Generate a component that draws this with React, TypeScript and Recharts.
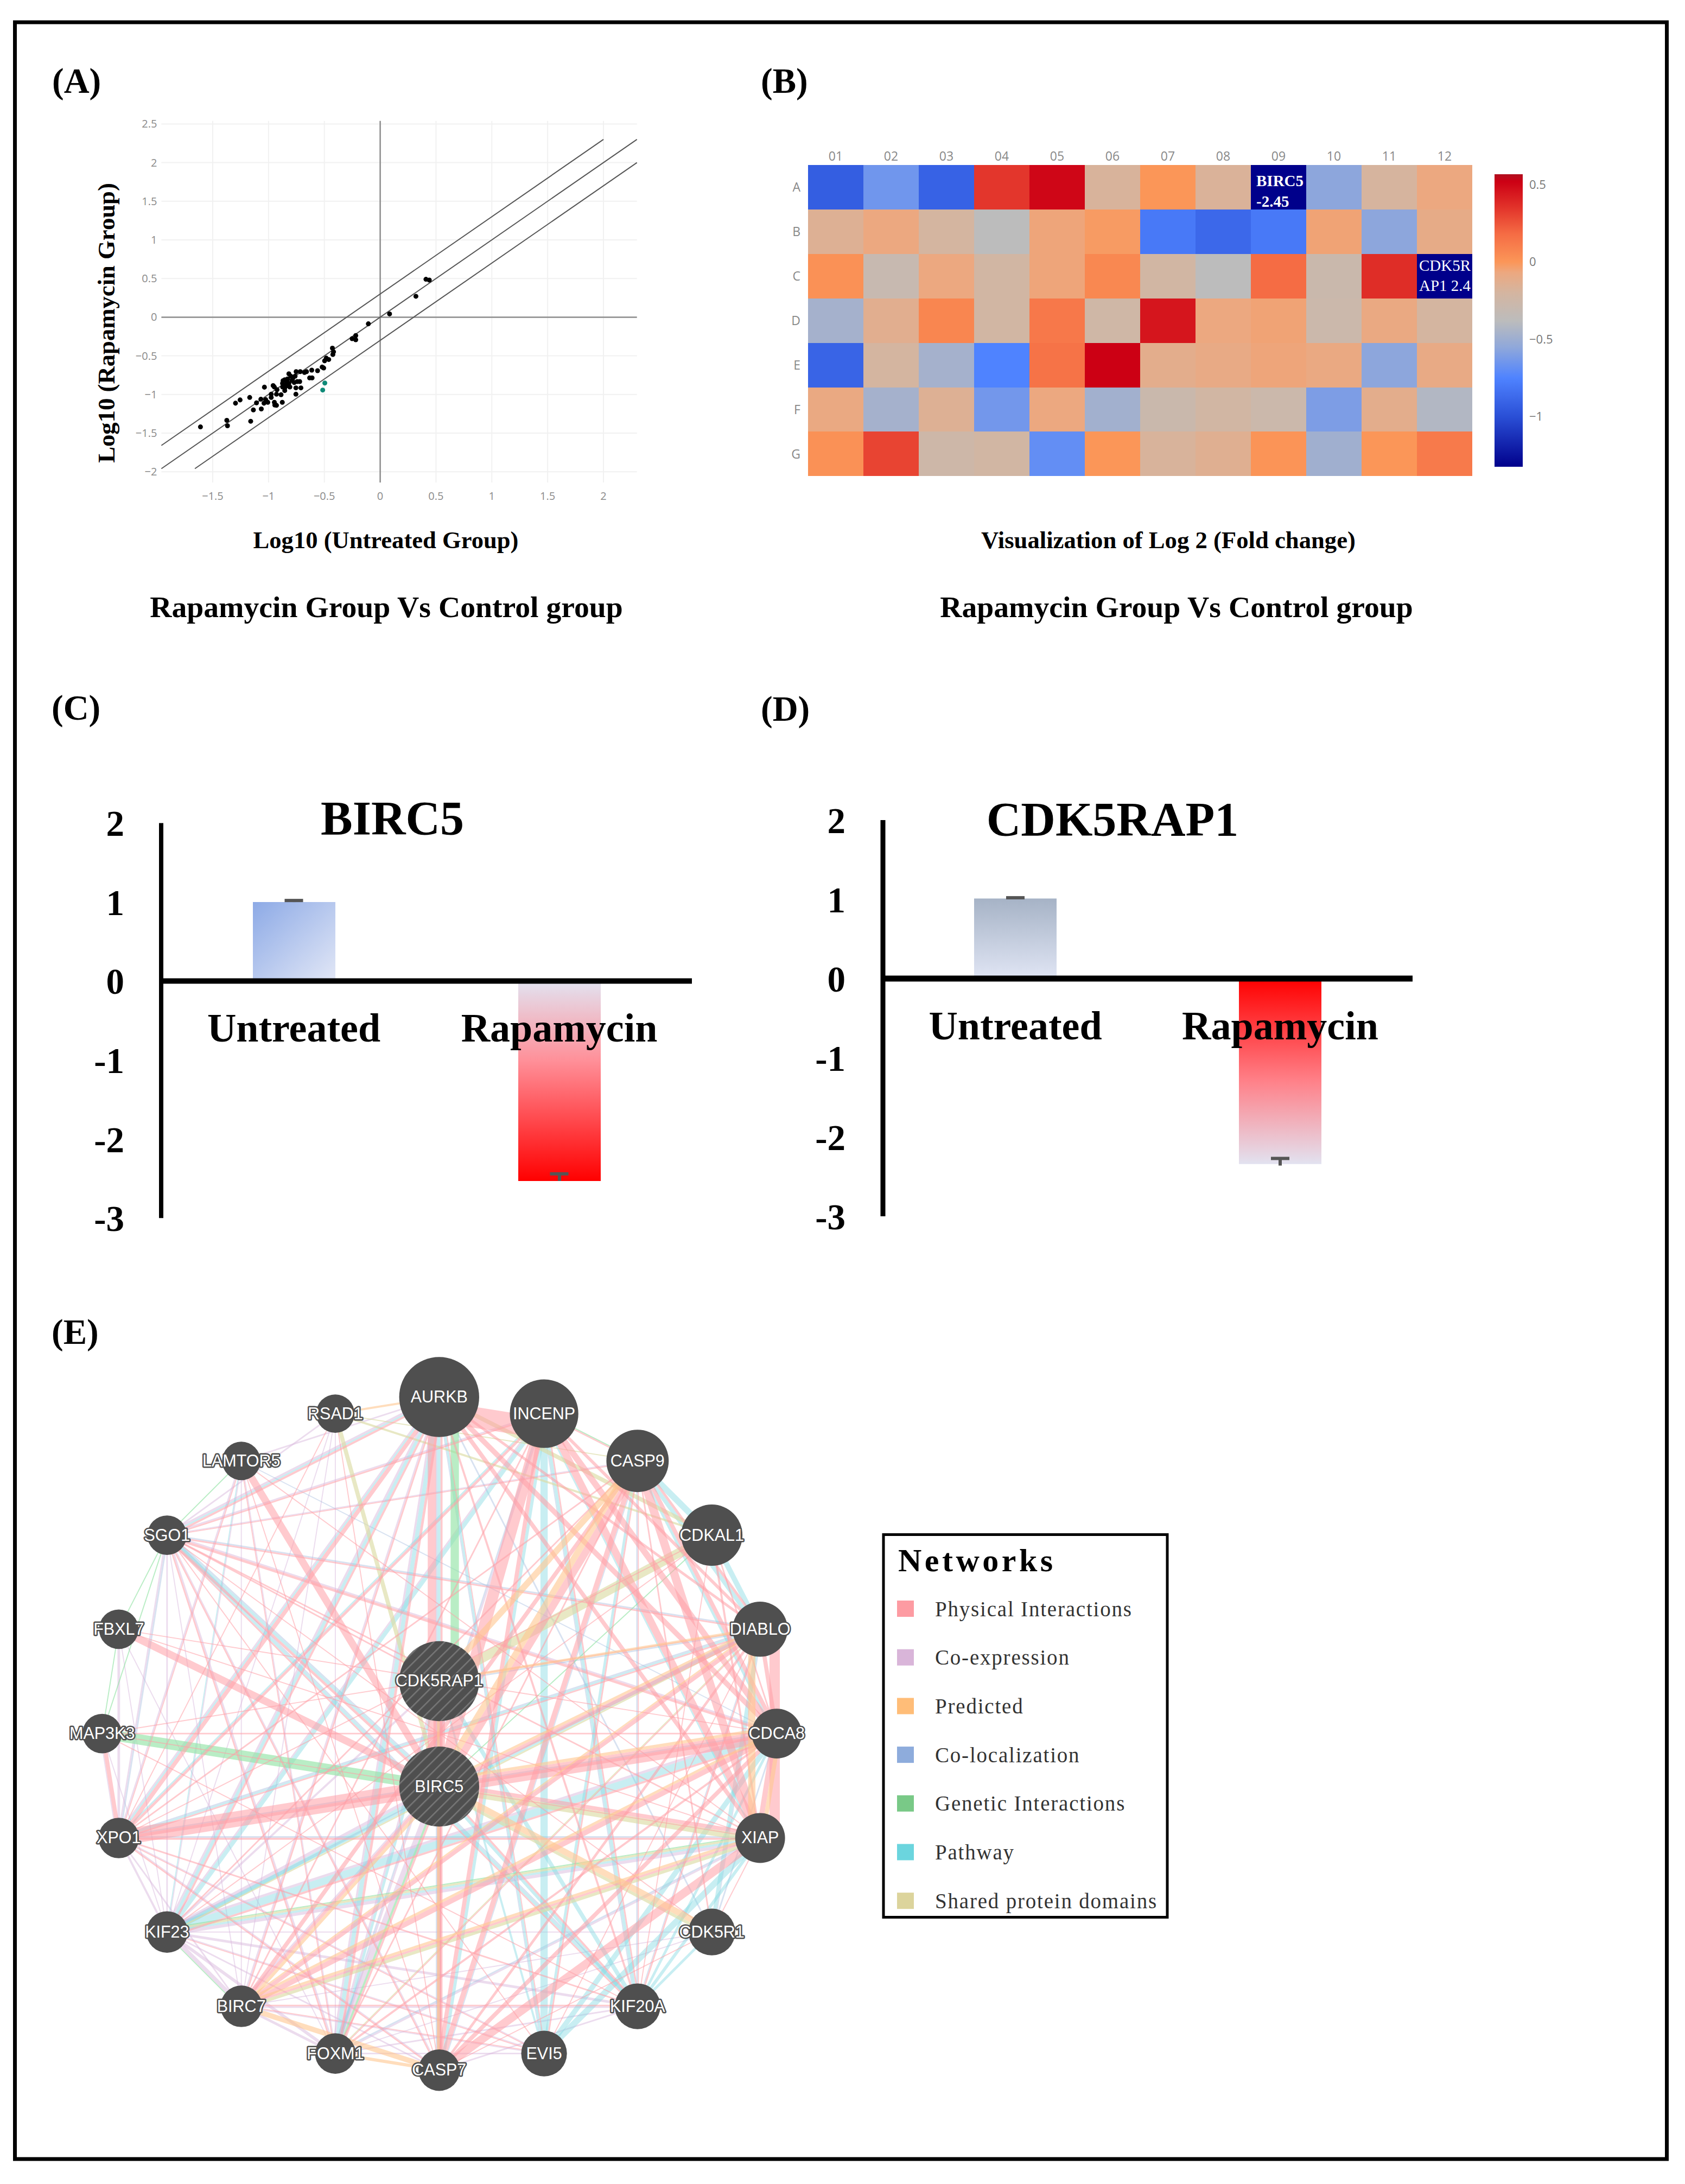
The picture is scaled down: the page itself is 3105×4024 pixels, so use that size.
import React from 'react';
import {
  ScatterChart, Scatter, XAxis, YAxis, ZAxis, CartesianGrid, ReferenceLine,
  BarChart, Bar, Cell, ComposedChart, Line, ErrorBar,
} from 'recharts';

const SERIF = '"Liberation Serif", serif';
const SANS = '"Liberation Sans", sans-serif';
const PLOT = '"Open Sans", sans-serif';

// ---- Panel A
const scatterBlack: [number, number][] = [
  [-1.61,-1.42],[-1.374,-1.335],[-1.368,-1.405],[-1.296,-1.113],[-1.255,-1.071],[-1.16,-1.347],[-1.169,-1.039],
  [-1.136,-1.2],[-1.108,-1.109],[-1.065,-1.188],[-1.069,-1.062],[-1.037,-0.906],[-1.041,-1.113],[-1.026,-1.067],
  [-1.007,-1.102],[-0.976,-0.997],[-0.976,-1.039],[-0.948,-1.102],[-0.944,-1.137],[-0.929,-1.141],[-0.959,-0.885],
  [-0.948,-0.904],[-0.924,-0.939],[-0.929,-0.997],[-0.888,-1.004],[-0.877,-1.102],[-0.855,-0.95],[-0.874,-0.904],
  [-0.755,-0.915],[-0.71,-0.915],[-0.755,-0.997],[-0.818,-0.733],[-0.87,-0.822],[-0.836,-0.833],[-0.818,-0.857],
  [-0.846,-0.891],[-0.809,-0.903],[-0.781,-0.786],[-0.762,-0.763],[-0.743,-0.833],[-0.721,-0.833],[-0.753,-0.705],
  [-0.716,-0.705],[-0.678,-0.716],[-0.66,-0.705],[-0.613,-0.686],[-0.561,-0.693],[-0.632,-0.786],[-0.61,-0.786],
  [-0.52,-0.646],[-0.506,-0.658],[-0.498,-0.565],[-0.483,-0.53],[-0.461,-0.548],[-0.428,-0.401],[-0.418,-0.448],
  [-0.424,-0.483],[-0.251,-0.278],[-0.219,-0.238],[-0.219,-0.292],[-0.106,-0.086],[0.084,0.042],[0.32,0.27],
  [0.41,0.49],[0.44,0.48],[-0.855,-0.81],[-0.83,-0.8],[-0.8,-0.765],[-0.79,-0.82],[-0.77,-0.845],[-0.835,-0.87],
  [-0.875,-0.857],[-0.82,-0.89],[-0.855,-0.915],
];
const scatterTeal: [number, number][] = [[-0.496,-0.852],[-0.515,-0.943]];
const foldLines = [
  [-1.96,-1.66,2,2.3],
  [-1.96,-1.96,2.3,2.3],
  [-1.66,-1.96,2.3,2],
];
const xTicksA = [-1.5,-1,-0.5,0,0.5,1,1.5,2];
const yTicksA = [-2,-1.5,-1,-0.5,0,0.5,1,1.5,2,2.5];

// ---- Panel B
const heatCols = ['01','02','03','04','05','06','07','08','09','10','11','12'];
const heatRows = ['A','B','C','D','E','F','G'];
const heatValues: number[][] = [
  [-0.93,-0.65,-0.91,0.34,0.5,-0.18,0,-0.17,-2.45,-0.56,-0.19,-0.07],
  [-0.15,-0.07,-0.2,-0.38,-0.06,-0.02,-0.8,-0.88,-0.8,-0.05,-0.56,-0.1],
  [0.02,-0.3,-0.07,-0.22,-0.06,0.06,-0.22,-0.38,0.18,-0.28,0.37,-2.4],
  [-0.47,-0.13,0.07,-0.22,0.13,-0.24,0.45,-0.07,-0.05,-0.27,-0.08,-0.2],
  [-0.9,-0.2,-0.47,-0.75,0.15,0.52,-0.12,-0.09,-0.06,-0.08,-0.56,-0.09],
  [-0.08,-0.47,-0.15,-0.64,-0.07,-0.48,-0.28,-0.22,-0.27,-0.61,-0.12,-0.42],
  [0.02,0.3,-0.25,-0.22,-0.69,0,-0.18,-0.14,0.01,-0.49,0,0.12],
];
const colorStops: [number, string][] = [
  [-1.325,'#00008b'],[-1,'#2a4fd6'],[-0.75,'#4f83ff'],[-0.55,'#90a8da'],[-0.38,'#bcbcbc'],
  [-0.2,'#d4b5a0'],[-0.07,'#eca880'],[0,'#fb9658'],[0.18,'#f56c44'],[0.35,'#e2332a'],[0.52,'#cc0014'],[0.566,'#b01020'],
];
const colorbarRange = [-1.325, 0.566];
const colorbarTicks = [-1,-0.5,0,0.5];
const heatNotes = [
  { row: 'A', col: '09', lines: ['BIRC5','-2.45'], bold: true, first: 29, step: 38 },
  { row: 'C', col: '12', lines: ['CDK5R','AP1 2.4'], bold: false, first: 22, step: 37 },
];

// ---- Panels C and D
const barCategories = ['Untreated','Rapamycin'];
const birc5Values = [1, -2.53];
const birc5Errors: [number,number][] = [[0,0.02],[0,0.09]];
const birc5Caps = [1.02,-2.44];
const cdk5Values = [1.01, -2.34];
const cdk5Errors: [number,number][] = [[0,0.01],[0.02,0.07]];
const cdk5Caps = [1.02,-2.27];
const barTicks = [-3,-2,-1,0,1,2];

// ---- Panel E
const nodeNames = ['AURKB','INCENP','CASP9','CDKAL1','DIABLO','CDCA8','XIAP','CDK5R1','KIF20A','EVI5','CASP7','FOXM1','BIRC7','KIF23','XPO1','MAP3K3','FBXL7','SGO1','LAMTOR5','RSAD1','CDK5RAP1','BIRC5'];
const nodeX = [783,985,1165,1308,1401,1433,1401,1308,1165,985,783,583,402,259,166,134,166,259,402,583,783,783];
const nodeY = [185,217,308,451,632,833,1034,1215,1358,1449,1481,1449,1358,1215,1034,833,632,451,308,217,732,935];
const nodeSizes = [77,66,60,59,53,48,48,45,44,44,40,39,40,40,39,38,38,38,37,37,77,77];
const queryGenes = ['CDK5RAP1','BIRC5'];

// from, to, weight, optional sideways offset of the link
type Edge = [string,string,number,number?];
const coexpressionEdges: Edge[] = [
  ['KIF23','BIRC7',8],['KIF23','FOXM1',6],['BIRC7','FOXM1',5],['KIF23','CASP7',3],['KIF23','XIAP',6],['KIF23','BIRC5',6],
  ['KIF23','CDK5RAP1',4],['XPO1','KIF23',4],['XPO1','BIRC7',3],['FOXM1','BIRC5',10],['FOXM1','AURKB',4],['FOXM1','CDK5RAP1',4],
  ['KIF23','CDCA8',5],['KIF23','KIF20A',5],['SGO1','XPO1',3],['SGO1','KIF23',3],['SGO1','FOXM1',3],['LAMTOR5','XPO1',3],
  ['AURKB','SGO1',4],['RSAD1','SGO1',3],['AURKB','LAMTOR5',3],['XPO1','FBXL7',3],['AURKB','KIF23',4],['INCENP','KIF23',3],
  ['BIRC7','KIF20A',3],['FOXM1','KIF20A',3],['FOXM1','EVI5',3],['CASP7','KIF20A',3],['SGO1','CDCA8',3],['BIRC7','AURKB',3],
  ['MAP3K3','KIF23',2],['FBXL7','KIF23',2],['FOXM1','XIAP',3],['BIRC7','BIRC5',3],['RSAD1','KIF23',2],['FOXM1','INCENP',3],
  ['LAMTOR5','FOXM1',2],['LAMTOR5','BIRC7',2],['LAMTOR5','KIF23',2],['FBXL7','FOXM1',2],['FBXL7','XPO1',2],['MAP3K3','XPO1',2],
  ['RSAD1','FOXM1',2],['RSAD1','BIRC7',2],['SGO1','BIRC7',2],['SGO1','CASP7',2],['KIF23','EVI5',2],['BIRC7','EVI5',2],
  ['AURKB','XPO1',3],['INCENP','SGO1',3],['CASP9','SGO1',2],['KIF23','CDK5R1',2],['FOXM1','CDK5R1',2],['XPO1','EVI5',2],
  ['XPO1','CASP7',2],['BIRC7','CDK5R1',2],
];
const colocalizationEdges: Edge[] = [
  ['SGO1','DIABLO',3],['XPO1','XIAP',3],['XPO1','CDCA8',3],['FOXM1','XIAP',3],['CASP9','KIF20A',3],['SGO1','BIRC5',3],
  ['AURKB','CDK5R1',3],['INCENP','FOXM1',3],['AURKB','CASP7',3],['KIF23','DIABLO',3],['LAMTOR5','CDCA8',2],['CDK5RAP1','DIABLO',3],
  ['XPO1','DIABLO',3],['SGO1','KIF20A',3],['CDK5R1','CDCA8',3],['XPO1','SGO1',3],['AURKB','EVI5',2],['INCENP','KIF20A',2],
  ['CASP9','CASP7',2],['CDK5R1','DIABLO',2],['KIF20A','DIABLO',2],
];
const pathwayEdges: Edge[] = [
  ['INCENP','EVI5',14],['KIF23','INCENP',8],['KIF23','AURKB',6],['KIF23','CDCA8',14],['CDCA8','EVI5',10],['XIAP','EVI5',12],
  ['XIAP','KIF20A',6],['CDK5R1','KIF20A',5],['CASP9','CDKAL1',12],['CDKAL1','DIABLO',10],['CASP9','DIABLO',8],
  ['CDK5RAP1','KIF20A',8],['BIRC5','KIF20A',6],['SGO1','KIF20A',5],['SGO1','BIRC5',5],['FOXM1','AURKB',8],['FOXM1','CDK5RAP1',5],
  ['AURKB','CASP7',6],['INCENP','CASP7',6],['CDK5R1','DIABLO',7],['KIF20A','INCENP',6],['DIABLO','XPO1',3],['KIF23','XIAP',4],
  ['KIF23','DIABLO',4],['CASP9','EVI5',5],['KIF20A','CDCA8',5],['XPO1','INCENP',3],['CASP9','CDCA8',5],['KIF23','BIRC5',8],
  ['XPO1','AURKB',3],['SGO1','AURKB',3],['AURKB','EVI5',4],['CDK5RAP1','EVI5',4],['LAMTOR5','KIF23',2],['INCENP','XIAP',3],
];
const sharedEdges: Edge[] = [
  ['CDKAL1','CDK5RAP1',18],['CDKAL1','AURKB',8],['RSAD1','BIRC5',8],['XIAP','BIRC5',12],['KIF23','DIABLO',3],['BIRC7','XIAP',6],
  ['RSAD1','CDKAL1',4],['CDK5R1','BIRC5',6],['KIF23','XIAP',4],['FOXM1','DIABLO',2],['CASP9','RSAD1',2],
];
const geneticEdges: Edge[] = [
  ['MAP3K3','BIRC5',20],['AURKB','CDK5RAP1',16,30],['FOXM1','BIRC5',4],['FBXL7','MAP3K3',2],['LAMTOR5','SGO1',2],['INCENP','CASP9',2],
  ['KIF23','BIRC7',2],['SGO1','FBXL7',2],['MAP3K3','SGO1',2],['CDKAL1','BIRC5',2],['KIF23','XIAP',2],
];
const physicalEdges: Edge[] = [
  ['AURKB','INCENP',40,-28],['AURKB','BIRC5',16,-14],['INCENP','BIRC5',22],['CASP9','BIRC5',14],['CASP9','XIAP',16],['INCENP','XIAP',14],
  ['INCENP','CDCA8',12],['AURKB','XIAP',8],['AURKB','CDCA8',10],['AURKB','DIABLO',5],['XPO1','BIRC5',30],['DIABLO','XIAP',20,28],
  ['CDCA8','BIRC5',24],['XIAP','BIRC5',8],['DIABLO','BIRC5',8],['LAMTOR5','BIRC5',14],['FBXL7','BIRC5',14],['SGO1','BIRC5',5],
  ['BIRC7','CDCA8',10],['BIRC7','DIABLO',8],['BIRC7','BIRC5',6],['CASP7','XIAP',16],['CASP7','CDCA8',8],['CASP7','BIRC5',8],
  ['CASP7','INCENP',8],['XPO1','AURKB',8],['XPO1','INCENP',5],['XPO1','MAP3K3',8],['FOXM1','AURKB',5],['FOXM1','CDCA8',4],
  ['FOXM1','BIRC5',4],['KIF23','AURKB',4],['KIF23','CDCA8',4],['KIF20A','AURKB',4],['KIF20A','BIRC5',4],['KIF20A','INCENP',3],
  ['SGO1','AURKB',4],['SGO1','CDCA8',5],['SGO1','XIAP',3],['SGO1','INCENP',3],['SGO1','DIABLO',3],['SGO1','KIF20A',3],
  ['SGO1','FOXM1',3],['BIRC7','XIAP',4],['BIRC7','KIF20A',3],['XIAP','XPO1',4],['XPO1','KIF20A',3],['XPO1','CDCA8',6],
  ['XPO1','DIABLO',3],['CDK5RAP1','BIRC5',22],['CASP9','CASP7',10],['CASP9','BIRC7',8],['DIABLO','CASP7',5],['CDCA8','XIAP',10],
  ['DIABLO','CDCA8',8],['CASP9','CDCA8',8],['INCENP','DIABLO',6],['MAP3K3','CDCA8',3],['LAMTOR5','XIAP',2],
  ['SGO1','CDK5RAP1',3],['SGO1','CASP7',3],['SGO1','EVI5',2],['SGO1','CDK5R1',2],['SGO1','CASP9',2],['XPO1','CASP9',3],
  ['XPO1','CDKAL1',2],['XPO1','CASP7',3],['XPO1','RSAD1',2],['XPO1','LAMTOR5',2],['XPO1','EVI5',2],['FBXL7','XIAP',2],
  ['FBXL7','CDCA8',2],['MAP3K3','DIABLO',2],['MAP3K3','XIAP',2],['MAP3K3','KIF20A',2],['LAMTOR5','FOXM1',2],['LAMTOR5','CASP7',2],
  ['RSAD1','CASP7',2],['KIF23','CASP9',3],['KIF23','CDKAL1',2],['KIF23','EVI5',2],['BIRC7','INCENP',3],['BIRC7','AURKB',3],
  ['BIRC7','EVI5',2],['FOXM1','CASP9',3],['FOXM1','DIABLO',2],['EVI5','AURKB',2],['EVI5','CASP9',3],['EVI5','DIABLO',2],
  ['KIF20A','DIABLO',3],['KIF20A','CDKAL1',2],['KIF20A','CASP9',2],['CASP7','AURKB',4],['CASP7','CDK5RAP1',3],['CASP7','CDK5R1',2],
  ['CDK5R1','XIAP',2],['CDK5R1','CASP9',3],['CDKAL1','XIAP',4],['CDKAL1','CDCA8',3],['CASP9','DIABLO',5],['INCENP','CASP9',3],
];
const predictedEdges: Edge[] = [
  ['DIABLO','XIAP',14,-16],['CASP9','BIRC5',12],['CASP9','CDK5RAP1',12],['BIRC7','CASP7',10],['BIRC7','CDCA8',5],['BIRC7','BIRC5',6],
  ['CASP7','CDK5RAP1',5],['CDK5R1','BIRC5',12],['DIABLO','BIRC5',5],['CDCA8','XIAP',8],['BIRC5','CDCA8',6],['BIRC7','XIAP',5],
  ['CDK5RAP1','DIABLO',5],['RSAD1','AURKB',4],['FOXM1','CASP7',6],['BIRC7','DIABLO',3],
];
const edgeLayers: { edges: Edge[]; color: string; opacity: number }[] = [
  { edges: coexpressionEdges, color: '#d9b9dd', opacity: 0.5 },
  { edges: colocalizationEdges, color: '#a9bfe0', opacity: 0.45 },
  { edges: pathwayEdges, color: '#86dae2', opacity: 0.45 },
  { edges: sharedEdges, color: '#dcdca4', opacity: 0.65 },
  { edges: geneticEdges, color: '#93e3a6', opacity: 0.65 },
  { edges: physicalEdges, color: '#ff9ea6', opacity: 0.55 },
  { edges: predictedEdges, color: '#ffc690', opacity: 0.6 },
];
const legendLabels = ['Physical Interactions','Co-expression','Predicted','Co-localization','Genetic Interactions','Pathway','Shared protein domains'];
const legendColors = ['#fd9ba2','#d9b5d9','#ffbd78','#8eacdc','#79c987','#6bd5de','#dcd49c'];

// ---- Derived tables
const toPts = (a: [number,number][]) => a.map(([x,y]) => ({ x, y }));
const minus = (v: number) => String(v).replace('-', '\u2212');
const mix = (a: string, b: string, t: number) => {
  const p = (s: string, i: number) => parseInt(s.slice(i, i + 2), 16);
  const c = [1,3,5].map((i) => Math.round(p(a,i) + (p(b,i) - p(a,i)) * t));
  return `rgb(${c[0]},${c[1]},${c[2]})`;
};
const heatColor = (v: number) => {
  if (v <= colorStops[0][0]) return colorStops[0][1];
  for (let i = 1; i < colorStops.length; i++) {
    if (v <= colorStops[i][0]) {
      const [v0,c0] = colorStops[i-1];
      const [v1,c1] = colorStops[i];
      return mix(c0, c1, (v - v0) / (v1 - v0));
    }
  }
  return colorStops[colorStops.length-1][1];
};
const heatData = heatCols.map((col) => {
  const d: Record<string, any> = { col };
  heatRows.forEach((r) => { d[r] = 1; });
  return d;
});
const rowTicks = heatRows.map((_, i) => i + 0.5);
const birc5Data = barCategories.map((name, i) => ({ name, value: birc5Values[i], err: birc5Errors[i], cap: birc5Caps[i] }));
const cdk5Data = barCategories.map((name, i) => ({ name, value: cdk5Values[i], err: cdk5Errors[i], cap: cdk5Caps[i] }));
const nodes = nodeNames.map((name, i) => ({ name, x: nodeX[i], y: nodeY[i], size: nodeSizes[i] }));
const nodeByName = Object.fromEntries(nodes.map((n) => [n.name, n]));
const NET_SPAN = 1567.5;
const NET_RATIO = 1500 / NET_SPAN;

// Links between the same two genes lie side by side, as bundles.
const pairKey = (a: string, b: string) => (a < b ? `${a}|${b}` : `${b}|${a}`);
const bundleTotals: Record<string, number> = {};
edgeLayers.forEach((l) => l.edges.forEach(([a,b,w,s]) => {
  if (s === undefined) bundleTotals[pairKey(a,b)] = (bundleTotals[pairKey(a,b)] || 0) + w;
}));
const bundleUsed: Record<string, number> = {};
const edgeSegments = edgeLayers.flatMap((layer, li) => layer.edges.map(([a,b,w,s], ei) => {
  const A = nodeByName[a];
  const B = nodeByName[b];
  let from = A;
  let to = B;
  let off = s ?? 0;
  if (s === undefined) {
    const k = pairKey(a,b);
    const used = bundleUsed[k] || 0;
    off = used + w / 2 - bundleTotals[k] / 2;
    bundleUsed[k] = used + w;
    if (a > b) { from = B; to = A; }
  }
  const dx = to.x - from.x;
  const dy = to.y - from.y;
  const len = Math.hypot(dx, dy);
  const nx = (dy / len) * off;
  const ny = (-dx / len) * off;
  return {
    key: `${li}-${ei}`, color: layer.color, opacity: layer.opacity, width: w * NET_RATIO,
    seg: [{ x: from.x + nx, y: from.y + ny }, { x: to.x + nx, y: to.y + ny }],
  };
}));

const Box = ({ l, t, children }: any) => (
  <div style={{ position: 'absolute', left: l, top: t }}>{children}</div>
);

const PageText = ({ x, y, size, bold = true, anchor = 'middle', children, rotate, fill = '#000', spacing }: any) => (
  <text
    x={x} y={y} fontFamily={SERIF} fontSize={size} fontWeight={bold ? 700 : 400} textAnchor={anchor}
    dominantBaseline="central" fill={fill} letterSpacing={spacing}
    transform={rotate ? `rotate(${rotate} ${x} ${y})` : undefined}
  >{children}</text>
);

const capShape = (fill: string) => (p: any) => (
  <rect key={p.index} x={p.cx - 17} y={p.cy - 3} width={34} height={6} fill={fill} />
);

const categoryTick = (y: number) => ({ x, payload }: any) => (
  <text x={x} y={y} textAnchor="middle" dominantBaseline="central" fontFamily={SERIF} fontWeight={700} fontSize={74} fill="#000">{payload.value}</text>
);

const BarPanel = ({ data, width, height, top, yWidth, axisWidth, tickMargin, labelY, fills, axisBar }: any) => (
  <ComposedChart width={width} height={height} data={data} margin={{ top, right: 20, bottom: 0, left: 0 }} barCategoryGap={0}>
    <XAxis dataKey="name" axisLine={false} tickLine={false} height={50} interval={0} tick={categoryTick(labelY)} />
    <YAxis
      type="number" domain={[-3,2]} ticks={barTicks} width={yWidth} interval={0} tickLine={false} tickMargin={tickMargin}
      axisLine={{ stroke: '#000', strokeWidth: axisWidth }}
      tick={{ fill: '#000', fontFamily: SERIF, fontWeight: 700, fontSize: 67 }}
    />
    <ReferenceLine y={0} stroke="#000" strokeWidth={axisBar} />
    <Bar dataKey="value" barSize={152} isAnimationActive={false}>
      {data.map((_: any, i: number) => <Cell key={i} fill={fills[i]} />)}
      <ErrorBar dataKey="err" width={0} stroke="#555" strokeWidth={6} isAnimationActive={false} />
    </Bar>
    <Line dataKey="cap" stroke="none" isAnimationActive={false} activeDot={false} dot={capShape('#555')} />
  </ComposedChart>
);

export default function App() {
  const barStops = colorStops;
  const span = colorbarRange[1] - colorbarRange[0];
  return (
    <div style={{ position: 'absolute', left: 0, top: 0, width: 3105, height: 4024, background: '#fff', overflow: 'hidden' }}>
      {/* Panel A */}
      <Box l={200} t={180}>
        <ScatterChart width={1100} height={820} margin={{ top: 42.7, right: 126.3, bottom: 0, left: 0 }}>
          <CartesianGrid stroke="#f1f1f1" strokeWidth={2} horizontalValues={yTicksA} verticalValues={xTicksA} />
          <XAxis type="number" dataKey="x" domain={[-1.96,2.3]} ticks={xTicksA} height={110.9} interval={0}
            axisLine={false} tickLine={false} tickMargin={12} tickFormatter={minus} allowDataOverflow
            tick={{ fill: '#8a8a8a', fontFamily: PLOT, fontSize: 20 }} />
          <YAxis type="number" dataKey="y" domain={[-2.14,2.54]} ticks={yTicksA} width={97.4} interval={0}
            axisLine={false} tickLine={false} tickMargin={2} tickFormatter={minus} allowDataOverflow
            tick={{ fill: '#8a8a8a', fontFamily: PLOT, fontSize: 20 }} />
          <ZAxis range={[60,60]} />
          <ReferenceLine x={0} stroke="#8c8c8c" strokeWidth={2.5} />
          <ReferenceLine y={0} stroke="#8c8c8c" strokeWidth={2.5} />
          {foldLines.map((s, i) => (
            <ReferenceLine key={i} stroke="#555" strokeWidth={2} ifOverflow="visible"
              segment={[{ x: s[0], y: s[1] }, { x: s[2], y: s[3] }]} />
          ))}
          <Scatter data={toPts(scatterBlack)} fill="#000" isAnimationActive={false} />
          <Scatter data={toPts(scatterTeal)} fill="#0f8a78" isAnimationActive={false} />
        </ScatterChart>
      </Box>

      {/* Panel B */}
      <Box l={1449} t={243.6}>
        <BarChart width={1264} height={633.4} data={heatData} margin={{ top: 0, right: 0, bottom: 0, left: 0 }} barCategoryGap={0}>
          <XAxis dataKey="col" orientation="top" height={60} axisLine={false} tickLine={false} interval={0} tickMargin={2}
            tick={{ fill: '#888', fontFamily: PLOT, fontSize: 23 }} />
          <YAxis type="number" reversed domain={[0,7]} ticks={rowTicks} width={40} axisLine={false} tickLine={false} interval={0} tickMargin={8}
            tickFormatter={(v: number) => heatRows[Math.floor(v)]} tick={{ fill: '#888', fontFamily: PLOT, fontSize: 23 }} />
          {heatRows.map((r, ri) => (
            <Bar key={r} dataKey={r} stackId="plate" isAnimationActive={false} style={{ shapeRendering: 'crispEdges' }}>
              {heatCols.map((c, ci) => <Cell key={c} fill={heatColor(heatValues[ri][ci])} />)}
            </Bar>
          ))}
        </BarChart>
      </Box>
      <Box l={2754} t={320.6}>
        <BarChart width={132} height={539.4} data={[{ name: 'scale', range: colorbarRange }]} margin={{ top: 0, right: 0, bottom: 0, left: 0 }} barCategoryGap={0}>
          <XAxis dataKey="name" hide />
          <YAxis orientation="right" type="number" domain={colorbarRange} ticks={colorbarTicks} width={80} interval={0}
            axisLine={false} tickLine={false} tickMargin={6} tickFormatter={minus}
            tick={{ fill: '#777', fontFamily: PLOT, fontSize: 22 }} />
          <Bar dataKey="range" fill="url(#colorbarFill)" isAnimationActive={false} />
        </BarChart>
      </Box>

      {/* Panel C */}
      <Box l={100} t={1450}>
        <BarPanel data={birc5Data} width={1195} height={844.3} top={66.5} yWidth={197} axisWidth={8} tickMargin={62} labelY={444} axisBar={10}
          fills={['url(#cUntreated)','url(#cRapamycin)']} />
      </Box>

      {/* Panel D */}
      <Box l={1430} t={1450}>
        <BarPanel data={cdk5Data} width={1193} height={841} top={61} yWidth={197} axisWidth={9} tickMargin={63} labelY={440} axisBar={11}
          fills={['url(#dUntreated)','url(#dRapamycin)']} />
      </Box>

      {/* Panel E */}
      <Box l={60} t={2397}>
        <ScatterChart width={1500} height={1500} margin={{ top: 0, right: 0, bottom: 0, left: 0 }}>
          <XAxis type="number" dataKey="x" domain={[0,NET_SPAN]} hide />
          <YAxis type="number" dataKey="y" domain={[0,NET_SPAN]} reversed hide />
          {edgeSegments.map((e) => (
            <ReferenceLine key={e.key} stroke={e.color} strokeOpacity={e.opacity} strokeWidth={e.width} ifOverflow="visible" segment={e.seg} />
          ))}
          <Scatter data={nodes} isAnimationActive={false}
            shape={(p: any) => {
              const hatched = queryGenes.includes(p.payload.name);
              return (
                <g>
                  <circle cx={p.cx} cy={p.cy} r={p.payload.size * NET_RATIO} fill={hatched ? 'url(#queryHatch)' : '#4f4f4f'} />
                  <text x={p.cx} y={p.cy - 1} textAnchor="middle" dominantBaseline="central" fontFamily={SANS} fontSize={30.5}
                    fill="#fff" stroke="#4f4f4f" strokeWidth={5} strokeLinejoin="round" style={{ paintOrder: 'stroke' }}>{p.payload.name}</text>
                </g>
              );
            }} />
        </ScatterChart>
      </Box>

      {/* Page level texts, frames and paint servers */}
      <svg width={3105} height={4024} style={{ position: 'absolute', left: 0, top: 0, pointerEvents: 'none' }}>
        <defs>
          <linearGradient id="colorbarFill" x1="0" y1="1" x2="0" y2="0">
            {barStops.map(([v,c], i) => <stop key={i} offset={(v - colorbarRange[0]) / span} stopColor={c} />)}
          </linearGradient>
          <linearGradient id="cUntreated" x1="0" y1="0" x2="1" y2="1">
            <stop offset="0" stopColor="#8daae6" /><stop offset="1" stopColor="#e2e7f6" />
          </linearGradient>
          <linearGradient id="cRapamycin" x1="0" y1="0" x2="0" y2="1">
            <stop offset="0" stopColor="#e2e2f0" /><stop offset="0.4" stopColor="#ff8f98" /><stop offset="1" stopColor="#ff0000" />
          </linearGradient>
          <linearGradient id="dUntreated" x1="0" y1="0" x2="0" y2="1">
            <stop offset="0" stopColor="#a6b3c6" /><stop offset="1" stopColor="#e0e5f4" />
          </linearGradient>
          <linearGradient id="dRapamycin" x1="0" y1="0" x2="0" y2="1">
            <stop offset="0" stopColor="#ff0000" /><stop offset="0.55" stopColor="#ff8088" /><stop offset="1" stopColor="#e2e2f0" />
          </linearGradient>
          <pattern id="queryHatch" width="14" height="14" patternUnits="userSpaceOnUse" patternTransform="rotate(45)">
            <rect width="14" height="14" fill="#4f4f4f" />
            <rect width="2.5" height="14" fill="#777" />
          </pattern>
        </defs>
        <rect x={27.5} y={41} width={3044} height={3937} fill="none" stroke="#000" strokeWidth={7} />

        <PageText x={96} y={149} size={65} anchor="start">(A)</PageText>
        <PageText x={1402} y={149} size={65} anchor="start">(B)</PageText>
        <PageText x={95} y={1304} size={65} anchor="start">(C)</PageText>
        <PageText x={1402} y={1306} size={65} anchor="start">(D)</PageText>
        <PageText x={95} y={2454} size={65} anchor="start">(E)</PageText>

        <PageText x={711} y={995} size={44.6}>Log10 (Untreated Group)</PageText>
        <PageText x={196} y={595} size={44.7} rotate={-90}>Log10 (Rapamycin Group)</PageText>
        <PageText x={712} y={1118} size={55.7}>Rapamycin Group Vs Control group</PageText>
        <PageText x={2153} y={995} size={44.7}>Visualization of Log 2 (Fold change)</PageText>
        <PageText x={2168} y={1118} size={55.7}>Rapamycin Group Vs Control group</PageText>
        <PageText x={723} y={1507} size={88}>BIRC5</PageText>
        <PageText x={2050} y={1509} size={88}>CDK5RAP1</PageText>

        {heatNotes.map((n) => {
          const left = 1489 + heatCols.indexOf(n.col) * 102;
          const top = 303.6 + heatRows.indexOf(n.row) * 81.9;
          return n.lines.map((line, i) => (
            <PageText key={line} x={left + (n.bold ? 10 : 4)} y={top + n.first + i * n.step} size={29} bold={n.bold} anchor="start" fill="#fff">{line}</PageText>
          ));
        })}

        <rect x={1628} y={2827.5} width={523} height={705} fill="#fff" stroke="#000" strokeWidth={5} />
        <PageText x={1655} y={2875} size={60} anchor="start" spacing={5.5}>Networks</PageText>
        {legendLabels.map((label, i) => (
          <g key={label}>
            <rect x={1653} y={2949 + i * 89.7} width={31} height={30} fill={legendColors[i]} />
            <PageText x={1723} y={2964 + i * 89.7} size={39} bold={false} anchor="start" fill="#333" spacing={1.8}>{label}</PageText>
          </g>
        ))}
      </svg>
    </div>
  );
}
